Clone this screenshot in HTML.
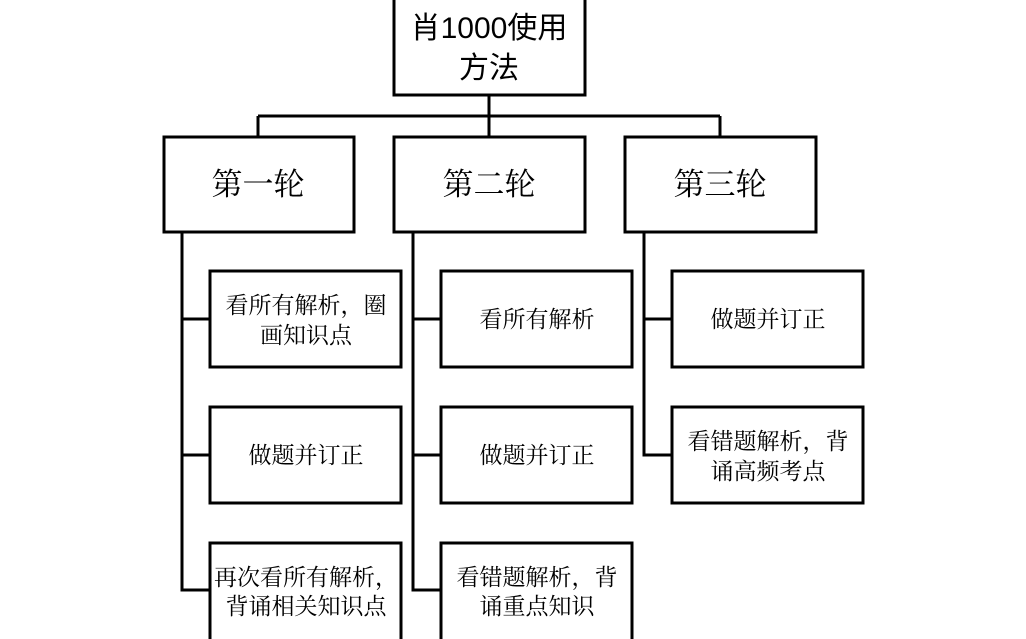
<!DOCTYPE html>
<html><head><meta charset="utf-8"><style>
html,body{margin:0;padding:0;background:#fff;width:1026px;height:639px;overflow:hidden}
text{font-family:"Noto Serif CJK SC","Liberation Serif",serif;fill:#000;text-anchor:middle}
</style></head><body>
<svg width="1026" height="639" xmlns="http://www.w3.org/2000/svg">
<g fill="none" stroke="#000" stroke-width="3">
<rect x="394" y="-2" width="191" height="97"/>
<path d="M489 96V116M258 116H720M258 116V136M489 116V136M720 116V136"/>
<rect x="164" y="137" width="190" height="95"/>
<rect x="394" y="137" width="191" height="95"/>
<rect x="625" y="137" width="191" height="95"/>
<path d="M182 232V590H210M182 319H210M182 455H210"/>
<path d="M413 232V590H441M413 319H441M413 455H441"/>
<path d="M644 232V455H672M644 319H672"/>
<rect x="210" y="271" width="191" height="96"/>
<rect x="210" y="407" width="191" height="96"/>
<rect x="210" y="543" width="191" height="98"/>
<rect x="441" y="271" width="191" height="96"/>
<rect x="441" y="407" width="191" height="96"/>
<rect x="441" y="543" width="191" height="98"/>
<rect x="672" y="271" width="191" height="96"/>
<rect x="672" y="407" width="191" height="96"/>
</g>
<g font-size="30">
<text x="489" y="38" style="font-family:'Liberation Sans','Noto Sans CJK SC',sans-serif">肖1000使用</text>
<text x="489" y="78" style="font-family:'Liberation Sans','Noto Sans CJK SC',sans-serif">方法</text>
</g>
<g font-size="31">
<text x="258" y="195">第一轮</text>
<text x="489" y="195">第二轮</text>
<text x="720" y="195">第三轮</text>
</g>
<g font-size="23">
<text x="306" y="313">看所有解析，圈</text>
<text x="306" y="343">画知识点</text>
<text x="306" y="463">做题并订正</text>
<text x="306" y="585">再次看所有解析，</text>
<text x="306" y="614">背诵相关知识点</text>
<text x="537" y="327">看所有解析</text>
<text x="537" y="463">做题并订正</text>
<text x="537" y="585">看错题解析，背</text>
<text x="537" y="614">诵重点知识</text>
<text x="768" y="327">做题并订正</text>
<text x="768" y="449">看错题解析，背</text>
<text x="768" y="479">诵高频考点</text>
</g>
</svg>
</body></html>
